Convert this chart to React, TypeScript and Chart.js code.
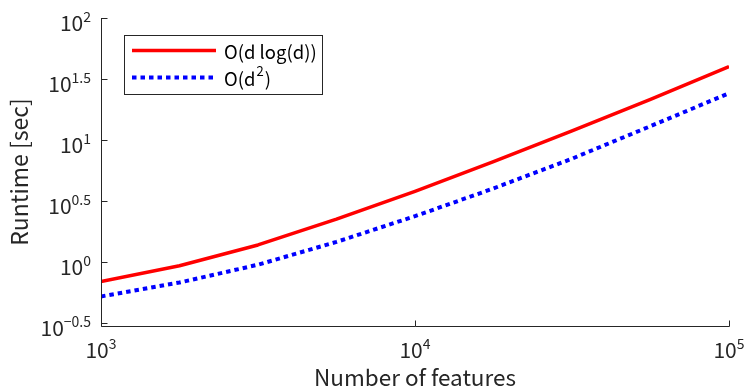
import React, { useEffect, useRef } from "react";
import { Chart, registerables } from "chart.js";

Chart.register(...registerables);

// ---- data ----
const features = [1000, 1778, 3162, 5623, 10000, 17783, 31623, 56234, 100000];
const runtimeDLogD = [0.693, 0.935, 1.384, 2.25, 3.8, 6.65, 11.9, 21.6, 40.0];
const runtimeD2 = [0.524, 0.681, 0.953, 1.465, 2.38, 4.02, 7.04, 13.0, 24.2];

const xTickValues = [1000, 10000, 100000];
const xTickExponents = ["3", "4", "5"];
const yTickValues = [0.316228, 1, 3.16228, 10, 31.6228, 100];
const yTickExponents = ["\u22120.5", "0", "0.5", "1", "1.5", "2"];

const legendBase = ["O(d log(d))", "O(d"];
const legendSup = ["", "2"];
const legendTail = ["", ")"];

const xTitle = "Number of features";
const yTitle = "Runtime [sec]";

const FONT = "'Noto Sans CJK JP', 'Noto Sans', sans-serif";
const AXIS = "#262626";

const decorPlugin = {
  id: "matlabDecor",
  afterDraw(chart: any) {
    const ctx: CanvasRenderingContext2D = chart.ctx;
    const xs = chart.scales.x;
    const ys = chart.scales.y;
    const ca = chart.chartArea;
    ctx.save();
    // axis lines
    ctx.strokeStyle = AXIS;
    ctx.lineWidth = 1;
    ctx.beginPath();
    const lx = Math.round(ca.left) + 0.5;
    const by = Math.round(ca.bottom) + 0.5;
    ctx.moveTo(lx, Math.round(ca.top));
    ctx.lineTo(lx, by);
    ctx.lineTo(Math.round(ca.right) + 0.5, by);
    // inward ticks
    yTickValues.forEach((v) => {
      const py = Math.round(ys.getPixelForValue(v)) + 0.5;
      ctx.moveTo(lx, py);
      ctx.lineTo(lx + 6, py);
    });
    xTickValues.forEach((v) => {
      const px = Math.round(xs.getPixelForValue(v)) + 0.5;
      ctx.moveTo(px, by);
      ctx.lineTo(px, by - 6);
    });
    ctx.stroke();

    // tick labels
    ctx.fillStyle = AXIS;
    ctx.textBaseline = "alphabetic";
    const bigFont = `21px ${FONT}`;
    const supFont = `14px ${FONT}`;
    yTickValues.forEach((v, i) => {
      const py = ys.getPixelForValue(v);
      ctx.font = supFont;
      const we = ctx.measureText(yTickExponents[i]).width;
      ctx.font = bigFont;
      const wb = ctx.measureText("10").width;
      const right = ca.left - 10;
      ctx.textAlign = "left";
      ctx.fillText("10", right - we - wb, py + 13);
      ctx.font = supFont;
      ctx.fillText(yTickExponents[i], right - we, py + 4);
    });
    xTickValues.forEach((v, i) => {
      const px = xs.getPixelForValue(v);
      ctx.font = supFont;
      const we = ctx.measureText(xTickExponents[i]).width;
      ctx.font = bigFont;
      const wb = ctx.measureText("10").width;
      const start = px - (wb + we) / 2;
      ctx.textAlign = "left";
      ctx.fillText("10", start, ca.bottom + 32);
      ctx.font = supFont;
      ctx.fillText(xTickExponents[i], start + wb, ca.bottom + 23);
    });

    // axis titles
    ctx.textAlign = "center";
    ctx.font = `22.5px ${FONT}`;
    ctx.fillText(xTitle, (ca.left + ca.right) / 2, 386);
    ctx.save();
    ctx.font = `23px ${FONT}`;
    ctx.translate(28, 172);
    ctx.rotate(-Math.PI / 2);
    ctx.fillText(yTitle, 0, 0);
    ctx.restore();

    // legend
    const bx = ca.left + 23;
    const bY = ca.top + 17;
    ctx.fillStyle = "#ffffff";
    ctx.fillRect(bx, bY, 198, 59);
    ctx.strokeStyle = AXIS;
    ctx.lineWidth = 1;
    ctx.strokeRect(bx + 0.5, bY + 0.5, 198, 59);
    const rowY = [bY + 15.5, bY + 42.5];
    const ds = chart.data.datasets;
    ds.forEach((d: any, i: number) => {
      ctx.strokeStyle = d.borderColor;
      ctx.lineWidth = d.borderWidth;
      ctx.setLineDash(d.borderDash || []);
      ctx.lineCap = "butt";
      ctx.beginPath();
      ctx.moveTo(bx + 8, rowY[i]);
      ctx.lineTo(bx + (i === 0 ? 92 : 90), rowY[i]);
      ctx.stroke();
      ctx.setLineDash([]);
      ctx.fillStyle = "#000000";
      ctx.textAlign = "left";
      ctx.font = `18.5px ${FONT}`;
      const tx = bx + 100;
      const baseY = rowY[i] + 8;
      ctx.fillText(legendBase[i], tx, baseY);
      let w = ctx.measureText(legendBase[i]).width;
      if (legendSup[i]) {
        ctx.font = `13px ${FONT}`;
        ctx.fillText(legendSup[i], tx + w + 1, baseY - 9.5);
        w += ctx.measureText(legendSup[i]).width + 2;
        ctx.font = `18.5px ${FONT}`;
        ctx.fillText(legendTail[i], tx + w, baseY);
      }
    });
    ctx.restore();
  },
};

export default function App() {
  const ref = useRef<HTMLCanvasElement | null>(null);
  useEffect(() => {
    if (!ref.current) return;
    const chart = new Chart(ref.current, {
      type: "line",
      data: {
        labels: features,
        datasets: [
          {
            label: legendBase[0],
            data: features.map((x, i) => ({ x, y: runtimeDLogD[i] })),
            borderColor: "#ff0000",
            borderWidth: 3.5,
            pointRadius: 0,
            tension: 0,
            fill: false,
            borderJoinStyle: "round",
          },
          {
            label: "O(d\u00b2)",
            data: features.map((x, i) => ({ x, y: runtimeD2[i] })),
            borderColor: "#0000ff",
            borderWidth: 4,
            borderDash: [4.5, 4],
            pointRadius: 0,
            tension: 0,
            fill: false,
          },
        ],
      },
      options: {
        animation: false,
        responsive: false,
        maintainAspectRatio: false,
        layout: { padding: { left: 101, right: 18, top: 18, bottom: 64 } },
        plugins: { legend: { display: false }, tooltip: { enabled: false } },
        scales: {
          x: { type: "logarithmic", display: false, min: 1000, max: 100000 },
          y: { type: "logarithmic", display: false, min: 0.316228, max: 100 },
        },
      },
      plugins: [decorPlugin],
    } as any);
    return () => chart.destroy();
  }, []);
  return (
    <div style={{ position: "fixed", left: 0, top: 0, width: 747, height: 390, background: "#fff" }}>
      <canvas ref={ref} width={747} height={390} style={{ width: 747, height: 390 }} />
    </div>
  );
}
